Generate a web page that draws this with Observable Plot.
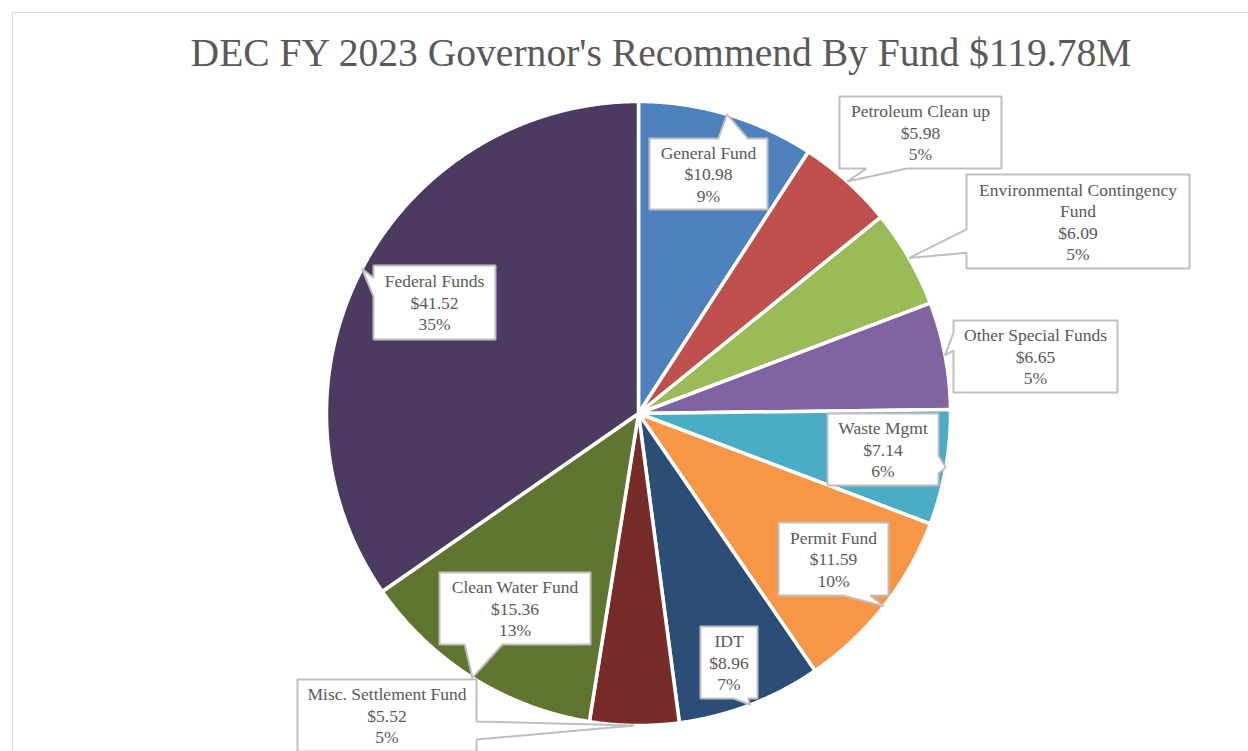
<!DOCTYPE html>
<html><head><meta charset="utf-8">
<script src="https://cdn.jsdelivr.net/npm/d3@7"></script>
<script src="https://cdn.jsdelivr.net/npm/@observablehq/plot@0.6"></script>
<style>
html,body{margin:0;padding:0;background:#fff;overflow:hidden;}
#wrap{position:relative;width:1248px;height:751px;overflow:hidden;}
#frame{position:absolute;left:12px;top:12px;width:1400px;height:900px;border:1px solid #d9d9d9;}
#title{position:absolute;left:161px;width:1000px;top:34px;text-align:center;font-family:"Liberation Serif",serif;font-size:39.6px;line-height:1;color:#595959;white-space:nowrap;}
#chart{position:absolute;left:0;top:0;}
</style></head><body>
<div id="wrap"><div id="frame"></div><div id="chart"></div><div id="title">DEC FY 2023 Governor's Recommend By Fund $119.78M</div></div>
<script>
// ---- data ----
const funds = ["General Fund","Petroleum Clean up","Environmental Contingency Fund","Other Special Funds","Waste Mgmt","Permit Fund","IDT","Misc. Settlement Fund","Clean Water Fund","Federal Funds"];
const labelNames = ["General Fund","Petroleum Clean up","Environmental Contingency\nFund","Other Special Funds","Waste Mgmt","Permit Fund","IDT","Misc. Settlement Fund","Clean Water Fund","Federal Funds"];
const amounts = [10.98,5.98,6.09,6.65,7.14,11.59,8.96,5.52,15.36,41.52];
const percentLabels = ["9%","5%","5%","5%","6%","10%","7%","5%","13%","35%"];
const colors = ["#4F81BD","#C0504D","#9BBB59","#8064A2","#4BACC6","#F79646","#2C4D75","#772C2A","#5F7530","#4D3A60"];

// ---- layout ----
const W = 1248, H = 751, CX = 638, CY = 413, R = 312;
const boxes = [ // left, top, width, height of each callout box
  [649,138,118,71],[839,96,162,72],[966,174,223,94],[953,320,164,72],[827,413,111,72],
  [778,522,110,73],[700,626,57,72],[297,679,179,72],[439,572,151,72],[373,265,122,74]
];

const rows = funds.map((f,i)=>({name:f, value:amounts[i]}));
const arcs = d3.pie().sort(null).value(d=>d.value)(rows);
const pt = (a,r)=>[CX + r*Math.sin(a), CY - r*Math.cos(a)];

const slicePts = [];
arcs.forEach(a=>{
  const n = Math.max(2, Math.ceil((a.endAngle-a.startAngle)/(Math.PI/720)));
  slicePts.push({name:a.data.name, x:CX, y:CY});
  for(let i=0;i<=n;i++){
    const [x,y] = pt(a.startAngle + (a.endAngle-a.startAngle)*i/n, R);
    slicePts.push({name:a.data.name, x, y});
  }
  slicePts.push({name:a.data.name, x:CX, y:CY});
});

function callout(name, [l,t,w,h], [tx,ty]){
  const cx=l+w/2, cy=t+h/2, dx=tx-cx, dy=ty-cy;
  const P=[];
  const add=(x,y)=>P.push({name,x,y});
  if (Math.abs(dx)/w > Math.abs(dy)/h){
    const b = dy>0 ? [t+h*7/12, t+h*10/12] : [t+h*2/12, t+h*5/12];
    add(l,t); add(l+w,t);
    if (dx>0){ add(l+w,b[0]); add(tx,ty); add(l+w,b[1]); }
    add(l+w,t+h); add(l,t+h);
    if (dx<=0){ add(l,b[1]); add(tx,ty); add(l,b[0]); }
    add(l,t);
  } else {
    const b = dx>0 ? [l+w*7/12, l+w*10/12] : [l+w*2/12, l+w*5/12];
    add(l,t);
    if (dy<0){ add(b[0],t); add(tx,ty); add(b[1],t); }
    add(l+w,t); add(l+w,t+h);
    if (dy>=0){ add(b[1],t+h); add(tx,ty); add(b[0],t+h); }
    add(l,t+h); add(l,t);
  }
  return P;
}

const calloutPts = [];
const labelRows = [];
arcs.forEach((a,i)=>{
  const tip = pt((a.startAngle+a.endAngle)/2, R);
  calloutPts.push(...callout(a.data.name, boxes[i], tip));
  const [l,t,w,h] = boxes[i];
  labelRows.push({x:l+w/2, y:t+h/2-0.5, text:`${labelNames[i]}\n$${amounts[i].toFixed(2)}\n${percentLabels[i]}`});
});

const chart = Plot.plot({
  width: W, height: H, margin: 0,
  x: {domain:[0,W], range:[0,W], axis:null},
  y: {domain:[0,H], range:[0,H], axis:null},
  color: {domain: funds, range: colors},
  style: {background:"transparent", overflow:"hidden"},
  marks: [
    Plot.line(slicePts, {x:"x", y:"y", z:"name", fill:"name", stroke:"white", strokeWidth:3.5, strokeLinejoin:"round"}),
    Plot.line(calloutPts, {x:"x", y:"y", z:"name", fill:"white", stroke:"#bfbfbf", strokeWidth:2, strokeLinejoin:"miter"}),
    Plot.text(labelRows, {x:"x", y:"y", text:"text", fontSize:17.5, lineHeight:1.23, fill:"#595959", fontFamily:"Liberation Serif"})
  ]
});
document.getElementById("chart").appendChild(chart);
</script>
</body></html>
